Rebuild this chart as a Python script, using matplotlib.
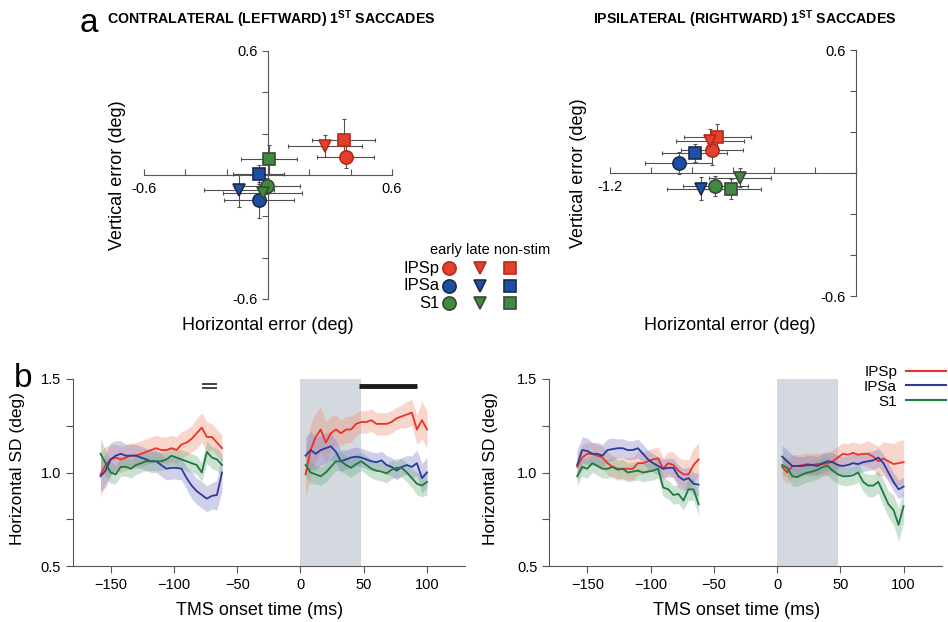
import matplotlib as mpl
mpl.use('Agg')
import matplotlib.pyplot as plt
from matplotlib.lines import Line2D
import numpy as np

plt.rcParams['font.family'] = ['Liberation Sans', 'DejaVu Sans']
plt.rcParams['mathtext.fontset'] = 'custom'
plt.rcParams['mathtext.rm'] = 'Liberation Sans'
plt.rcParams['mathtext.bf'] = 'Liberation Sans:bold'

regions = ['IPSp', 'IPSa', 'S1']
conditions = ['early', 'late', 'non-stim']

# ---- panel a: mean saccade error (deg), rows = regions, cols = conditions
contra_x = [[0.377, 0.275, 0.367], [-0.042, -0.141, -0.044], [-0.006, -0.026, 0.003]]
contra_y = [[0.087, 0.141, 0.167], [-0.121, -0.073, 0.003], [-0.053, -0.089, 0.076]]
contra_xerr = [[0.138, 0.18, 0.153], [0.17, 0.17, 0.123], [0.16, 0.19, 0.135]]
contra_yerr = [[0.052, 0.052, 0.104], [0.085, 0.08, 0.045], [0.04, 0.05, 0.07]]

ipsi_x = [[-0.702, -0.712, -0.676], [-0.865, -0.758, -0.787], [-0.686, -0.566, -0.608]]
ipsi_y = [[0.111, 0.154, 0.176], [0.049, -0.076, 0.098], [-0.062, -0.023, -0.078]]
ipsi_xerr = [[0.15, 0.167, 0.162], [0.162, 0.163, 0.157], [0.16, 0.15, 0.146]]
ipsi_yerr = [[0.073, 0.06, 0.065], [0.053, 0.055, 0.045], [0.049, 0.047, 0.049]]

# ---- panel b: horizontal SD (deg) vs TMS onset time (ms)
t_pre = np.arange(-158, -61, 4)
t_post = np.arange(4, 101, 4)

red_c_pre = [0.99, 1.04, 1.07, 1.08, 1.07, 1.08, 1.09, 1.09, 1.10, 1.11, 1.12, 1.13, 1.12, 1.12, 1.13, 1.12, 1.15, 1.16, 1.18, 1.21, 1.24, 1.19, 1.19, 1.16, 1.13]
blue_c_pre = [0.98, 1.01, 1.07, 1.09, 1.10, 1.09, 1.09, 1.09, 1.08, 1.07, 1.06, 1.06, 1.04, 1.02, 1.025, 1.025, 1.02, 0.97, 0.93, 0.90, 0.88, 0.86, 0.875, 0.88, 1.0]
green_c_pre = [1.10, 1.05, 1.00, 0.99, 1.03, 1.03, 1.02, 1.04, 1.05, 1.06, 1.06, 1.06, 1.06, 1.07, 1.09, 1.08, 1.07, 1.06, 1.05, 1.04, 1.00, 1.11, 1.08, 1.07, 1.04]
red_c_post = [0.99, 1.12, 1.19, 1.23, 1.16, 1.21, 1.23, 1.21, 1.23, 1.23, 1.26, 1.27, 1.27, 1.28, 1.26, 1.26, 1.26, 1.27, 1.29, 1.30, 1.31, 1.32, 1.23, 1.28, 1.23]
blue_c_post = [1.09, 1.12, 1.10, 1.12, 1.13, 1.14, 1.11, 1.06, 1.07, 1.08, 1.085, 1.08, 1.07, 1.06, 1.055, 1.065, 1.04, 1.03, 1.01, 1.03, 1.04, 1.03, 1.05, 0.97, 1.00]
green_c_post = [1.04, 1.00, 0.99, 0.98, 1.00, 1.03, 1.06, 1.06, 1.04, 1.025, 1.045, 1.06, 1.04, 1.02, 1.01, 1.005, 0.995, 1.015, 1.025, 1.025, 1.00, 0.97, 0.94, 0.93, 0.95]

red_i_pre = [1.03, 1.08, 1.10, 1.10, 1.09, 1.08, 1.05, 1.03, 1.02, 1.02, 1.02, 1.02, 1.05, 1.05, 1.06, 1.07, 1.075, 1.02, 1.05, 1.04, 1.01, 0.99, 0.99, 1.04, 1.07]
blue_i_pre = [1.04, 1.12, 1.115, 1.10, 1.10, 1.09, 1.12, 1.125, 1.13, 1.13, 1.12, 1.12, 1.13, 1.10, 1.07, 1.05, 1.035, 1.02, 1.025, 1.025, 0.98, 0.96, 0.97, 0.94, 0.935]
green_i_pre = [0.98, 1.03, 1.02, 1.05, 1.035, 1.02, 1.02, 1.03, 1.015, 1.02, 1.00, 1.005, 1.01, 1.00, 1.005, 1.01, 1.02, 0.92, 0.91, 0.88, 0.885, 0.85, 0.91, 0.91, 0.83]
red_i_post = [1.03, 1.00, 1.035, 1.035, 1.04, 1.045, 1.04, 1.045, 1.045, 1.048, 1.06, 1.08, 1.10, 1.095, 1.105, 1.095, 1.10, 1.10, 1.085, 1.06, 1.075, 1.06, 1.045, 1.05, 1.055]
blue_i_post = [1.085, 1.06, 1.035, 1.035, 1.035, 1.04, 1.04, 1.035, 1.05, 1.06, 1.055, 1.04, 1.035, 1.04, 1.05, 1.045, 1.055, 1.06, 1.065, 1.08, 1.05, 1.00, 0.95, 0.91, 0.925]
green_i_post = [1.04, 1.025, 0.98, 0.975, 0.99, 1.00, 1.005, 1.015, 1.03, 1.035, 1.01, 0.99, 0.98, 0.98, 0.985, 1.00, 0.95, 0.93, 0.93, 0.95, 0.89, 0.83, 0.80, 0.72, 0.82]

# half-width of the shaded bands
red_c_pre_sem = [0.12, 0.10, 0.08, 0.07, 0.07, 0.07, 0.07, 0.07, 0.07, 0.07, 0.07, 0.07, 0.07, 0.07, 0.07, 0.07, 0.07, 0.07, 0.07, 0.08, 0.08, 0.08, 0.07, 0.07, 0.07]
blue_c_pre_sem = [0.08, 0.09, 0.09, 0.08, 0.07, 0.06, 0.06, 0.06, 0.06, 0.06, 0.06, 0.06, 0.06, 0.06, 0.06, 0.06, 0.06, 0.06, 0.07, 0.07, 0.07, 0.07, 0.07, 0.08, 0.10]
green_c_pre_sem = [0.08, 0.07, 0.06, 0.05, 0.05, 0.05, 0.05, 0.05, 0.05, 0.05, 0.05, 0.05, 0.05, 0.05, 0.05, 0.05, 0.05, 0.05, 0.05, 0.05, 0.05, 0.06, 0.06, 0.06, 0.06]
red_c_post_sem = [0.12, 0.14, 0.13, 0.12, 0.11, 0.09, 0.08, 0.07, 0.07, 0.07, 0.06, 0.06, 0.06, 0.06, 0.06, 0.06, 0.06, 0.06, 0.06, 0.06, 0.07, 0.07, 0.08, 0.10, 0.10]
blue_c_post_sem = [0.10, 0.10, 0.09, 0.08, 0.08, 0.07, 0.06, 0.06, 0.05, 0.05, 0.05, 0.05, 0.05, 0.05, 0.05, 0.05, 0.05, 0.05, 0.05, 0.05, 0.05, 0.06, 0.07, 0.08, 0.08]
green_c_post_sem = [0.06, 0.06, 0.05, 0.05, 0.05, 0.05, 0.05, 0.05, 0.05, 0.05, 0.05, 0.05, 0.05, 0.05, 0.05, 0.05, 0.05, 0.05, 0.05, 0.05, 0.05, 0.05, 0.06, 0.06, 0.07]
red_i_pre_sem = [0.07, 0.07, 0.06, 0.06, 0.06, 0.06, 0.06, 0.06, 0.06, 0.06, 0.06, 0.06, 0.06, 0.06, 0.06, 0.06, 0.06, 0.06, 0.06, 0.07, 0.07, 0.08, 0.08, 0.09, 0.09]
blue_i_pre_sem = [0.08, 0.07, 0.07, 0.06, 0.06, 0.06, 0.06, 0.06, 0.05, 0.05, 0.05, 0.05, 0.05, 0.05, 0.05, 0.05, 0.05, 0.05, 0.05, 0.05, 0.06, 0.06, 0.06, 0.06, 0.06]
green_i_pre_sem = [0.05, 0.05, 0.05, 0.05, 0.05, 0.05, 0.05, 0.05, 0.05, 0.05, 0.05, 0.05, 0.05, 0.05, 0.05, 0.05, 0.05, 0.05, 0.05, 0.05, 0.05, 0.05, 0.06, 0.06, 0.06]
red_i_post_sem = [0.06, 0.06, 0.06, 0.06, 0.06, 0.06, 0.06, 0.06, 0.06, 0.06, 0.06, 0.06, 0.06, 0.06, 0.06, 0.06, 0.06, 0.07, 0.07, 0.08, 0.09, 0.10, 0.11, 0.12, 0.12]
blue_i_post_sem = [0.06, 0.06, 0.06, 0.05, 0.05, 0.05, 0.05, 0.05, 0.05, 0.05, 0.05, 0.05, 0.05, 0.05, 0.05, 0.05, 0.05, 0.05, 0.05, 0.05, 0.05, 0.05, 0.05, 0.05, 0.05]
green_i_post_sem = [0.05, 0.05, 0.05, 0.05, 0.05, 0.05, 0.05, 0.05, 0.05, 0.05, 0.05, 0.05, 0.05, 0.05, 0.05, 0.05, 0.05, 0.06, 0.06, 0.06, 0.07, 0.07, 0.08, 0.09, 0.09]

# significance markers (contralateral only)
sig_double_t = [-78, -66]
sig_double_y = [1.473, 1.452]
sig_bar_t = [46, 92]
sig_bar_y = 1.462
tms_window = [0, 48]

# ---- styles
marker_face = ['#e2412b', '#1c4fa5', '#3f8b3d']
marker_edge = ['#b8281a', '#1d2a4a', '#3d463d']
cond_markers = ['o', 'v', 's']
cond_sizes = [9.5, 9, 9]
cond_z = [4, 5, 3]
line_colors = ['#ee3124', '#2b3a9c', '#1b7a3e']
band_colors = ['#f08a6a', '#7a7ac8', '#6aaa80']
axis_gray = '#555555'

fig = plt.figure(figsize=(9.48, 6.22), dpi=100)


def error_axes(rect, xlim, xticklabels):
    ax = fig.add_axes(rect)
    ax.set_xlim(xlim)
    ax.set_ylim(-0.6, 0.6)
    for side in ['left', 'bottom']:
        ax.spines[side].set_position(('data', 0))
        ax.spines[side].set_color(axis_gray)
    ax.spines[['top', 'right']].set_visible(False)
    ax.set_xticks(np.round(np.arange(xlim[0], xlim[1] + 0.01, 0.2), 1))
    ax.set_xticklabels(xticklabels)
    ax.set_yticks([-0.6, -0.4, -0.2, 0, 0.2, 0.4, 0.6])
    ax.set_yticklabels(['-0.6', '', '', '', '', '', '0.6'])
    ax.tick_params(axis='x', direction='in', length=4, color=axis_gray, labelsize=10.5, pad=5)
    ax.tick_params(axis='y', direction='out', length=4, color=axis_gray, labelsize=10.5)
    ax.patch.set_alpha(0)
    return ax


def draw_errors(ax, xs, ys, xerrs, yerrs):
    for i in range(len(regions)):
        for j in range(len(conditions)):
            ax.errorbar(xs[i][j], ys[i][j], xerr=xerrs[i][j], yerr=yerrs[i][j],
                        fmt='none', ecolor='#505050', elinewidth=0.8, capsize=1.5,
                        capthick=0.8, zorder=2)
            ax.plot(xs[i][j], ys[i][j], cond_markers[j], ms=cond_sizes[j],
                    mfc=marker_face[i], mec=marker_edge[i], mew=1.2, zorder=cond_z[j])


ax_a1 = error_axes([144 / 948, 1 - 299 / 622, 248 / 948, 248 / 622], (-0.6, 0.6),
                   ['-0.6', '', '', '', '', '', '0.6'])
draw_errors(ax_a1, contra_x, contra_y, contra_xerr, contra_yerr)
ax_a1.text(0.5, -0.105, 'Horizontal error (deg)', transform=ax_a1.transAxes,
           ha='center', va='center', fontsize=13)
ax_a1.text(-0.105, 0.5, 'Vertical error (deg)', transform=ax_a1.transAxes,
           ha='center', va='center', rotation=90, fontsize=13)

ax_a2 = error_axes([610 / 948, 1 - 296 / 622, 246 / 948, 246 / 622], (-1.2, 0.0),
                   ['-1.2', '', '', '', '', '', ''])
draw_errors(ax_a2, ipsi_x, ipsi_y, ipsi_xerr, ipsi_yerr)
ax_a2.text(0.488, -0.118, 'Horizontal error (deg)', transform=ax_a2.transAxes,
           ha='center', va='center', fontsize=13)
ax_a2.text(-0.13, 0.5, 'Vertical error (deg)', transform=ax_a2.transAxes,
           ha='center', va='center', rotation=90, fontsize=13)

# marker key between the two scatter panels
leg = fig.add_axes([433.75 / 948, 1 - 311.75 / 622, 91.5 / 948, 52.5 / 622])
leg.set_xlim(-0.5, 2.5)
leg.set_ylim(2.5, -0.5)
leg.axis('off')
for i in range(len(regions)):
    leg.text(-0.3, i, regions[i], ha='right', va='center', fontsize=12)
    for j in range(len(conditions)):
        leg.plot(j, i, cond_markers[j], ms=cond_sizes[j], mfc=marker_face[i],
                 mec=marker_edge[i], mew=1.2, clip_on=False)
leg.text(-0.62, -1.03, ' '.join(conditions), ha='left', va='center', fontsize=10.5)


def sd_axes(rect):
    ax = fig.add_axes(rect)
    ax.set_xlim(-180, 130)
    ax.set_ylim(0.5, 1.5)
    ax.axvspan(tms_window[0], tms_window[1], color='#d3d9de', lw=0, zorder=0)
    ax.spines[['top', 'right']].set_visible(False)
    for side in ['left', 'bottom']:
        ax.spines[side].set_color(axis_gray)
    ax.set_xticks([-150, -100, -50, 0, 50, 100])
    ax.set_yticks([0.5, 0.75, 1.0, 1.25, 1.5])
    ax.set_yticklabels(['0.5', '', '1.0', '', '1.5'])
    ax.tick_params(direction='out', length=5, color=axis_gray, labelsize=10.5)
    ax.set_xlabel('TMS onset time (ms)', fontsize=13)
    ax.xaxis.set_label_coords(0.477, -0.19)
    ax.set_ylabel('Horizontal SD (deg)', fontsize=12.5)
    return ax


def draw_sd(ax, t, means, sems):
    for k in range(len(regions)):
        m = np.array(means[k])
        s = np.array(sems[k])
        ax.fill_between(t, m - s, m + s, color=band_colors[k], alpha=0.35, lw=0, zorder=1)
    for k in range(len(regions)):
        ax.plot(t, means[k], color=line_colors[k], lw=1.3, zorder=3)


ax_b1 = sd_axes([72.7 / 948, 1 - 566 / 622, 392.3 / 948, 187 / 622])
ax_b1.yaxis.set_label_coords(-0.122, 0.52)
draw_sd(ax_b1, t_pre, [red_c_pre, blue_c_pre, green_c_pre],
        [red_c_pre_sem, blue_c_pre_sem, green_c_pre_sem])
draw_sd(ax_b1, t_post, [red_c_post, blue_c_post, green_c_post],
        [red_c_post_sem, blue_c_post_sem, green_c_post_sem])
for y in sig_double_y:
    ax_b1.plot(sig_double_t, [y, y], color='#333333', lw=1.3, solid_capstyle='butt')
ax_b1.plot(sig_bar_t, [sig_bar_y, sig_bar_y], color='#1a1a1a', lw=3.5, solid_capstyle='butt')

ax_b2 = sd_axes([549.3 / 948, 1 - 566 / 622, 392.3 / 948, 187 / 622])
ax_b2.yaxis.set_label_coords(-0.131, 0.52)
draw_sd(ax_b2, t_pre, [red_i_pre, blue_i_pre, green_i_pre],
        [red_i_pre_sem, blue_i_pre_sem, green_i_pre_sem])
draw_sd(ax_b2, t_post, [red_i_post, blue_i_post, green_i_post],
        [red_i_post_sem, blue_i_post_sem, green_i_post_sem])

handles = [Line2D([], [], color=c, lw=1.5) for c in line_colors]
ax_b2.legend(handles, regions, loc='upper right', bbox_to_anchor=(946 / 948, 1 - 365 / 622),
             bbox_transform=fig.transFigure, frameon=False, markerfirst=False,
             handlelength=2.6, handletextpad=0.6, labelspacing=0.05,
             borderaxespad=0, borderpad=0, fontsize=11)

# panel letters and titles
fig.text(80 / 948, 1 - 32 / 622, 'a', fontsize=24, va='baseline')
fig.text(14 / 948, 1 - 387 / 622, 'b', fontsize=24, va='baseline')
fig.text(107 / 948, 1 - 23.5 / 622, r'CONTRALATERAL (LEFTWARD) 1$^{\mathbf{ST}}$ SACCADES',
         fontweight='bold', fontsize=10.2, va='baseline')
fig.text(593 / 948, 1 - 23.5 / 622, r'IPSILATERAL (RIGHTWARD) 1$^{\mathbf{ST}}$ SACCADES',
         fontweight='bold', fontsize=10.2, va='baseline')

fig.savefig('out.png', dpi=100)
